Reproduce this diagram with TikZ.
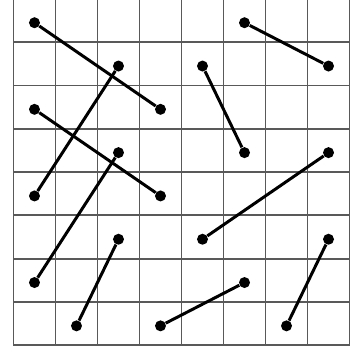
\documentclass[tikz,border=0pt]{standalone}
\begin{document}
\begin{tikzpicture}[x=0.84cm,y=0.866cm,
        dot/.style={circle,fill=black,inner sep=0pt,minimum size=0.22cm},
        seg/.style={line width=1.7pt,black}]
    \useasboundingbox (-0.321,-0.155) rectangle (8.226,7.975);
    % grid
    \draw[line width=1.1pt,black!65,xstep=0.84cm,ystep=0.866cm] (0,0) grid (8,8);
    % points
    \node (a1) [dot] at (0.5,7.45) {};
    \node (a2) [dot] at (3.5,5.45) {};
    \node (b1) [dot] at (2.5,6.45) {};
    \node (b2) [dot] at (0.5,3.45) {};
    \node (c1) [dot] at (0.5,5.45) {};
    \node (c2) [dot] at (3.5,3.45) {};
    \node (d1) [dot] at (2.5,4.45) {};
    \node (d2) [dot] at (0.5,1.45) {};
    \node (e1) [dot] at (2.5,2.45) {};
    \node (e2) [dot] at (1.5,0.45) {};
    \node (f1) [dot] at (5.5,7.45) {};
    \node (f2) [dot] at (7.5,6.45) {};
    \node (g1) [dot] at (4.5,6.45) {};
    \node (g2) [dot] at (5.5,4.45) {};
    \node (h1) [dot] at (7.5,4.45) {};
    \node (h2) [dot] at (4.5,2.45) {};
    \node (i1) [dot] at (7.5,2.45) {};
    \node (i2) [dot] at (6.5,0.45) {};
    \node (j1) [dot] at (5.5,1.45) {};
    \node (j2) [dot] at (3.5,0.45) {};
    % segments
    \draw[seg] (a1) -- (a2);
    \draw[seg] (b1) -- (b2);
    \draw[seg] (c1) -- (c2);
    \draw[seg] (d1) -- (d2);
    \draw[seg] (e1) -- (e2);
    \draw[seg] (f1) -- (f2);
    \draw[seg] (g1) -- (g2);
    \draw[seg] (h1) -- (h2);
    \draw[seg] (i1) -- (i2);
    \draw[seg] (j1) -- (j2);
\end{tikzpicture}
\end{document}
